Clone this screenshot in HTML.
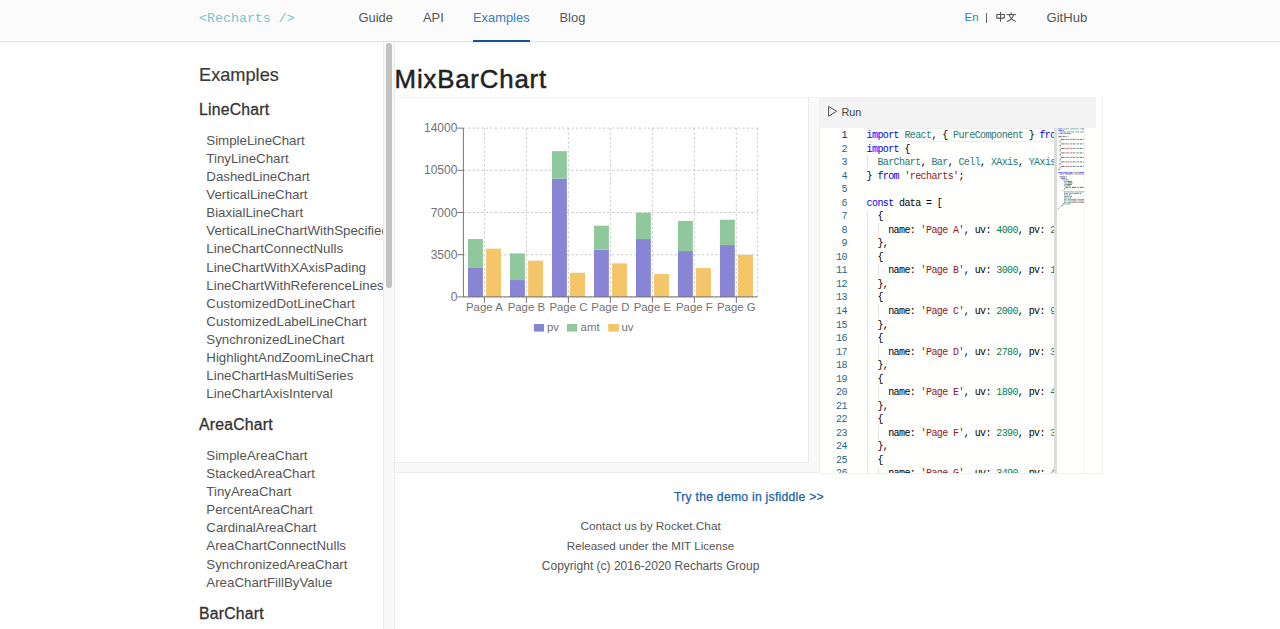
<!DOCTYPE html>
<html><head><meta charset="utf-8">
<style>
html,body{margin:0;padding:0;}
body{width:1280px;height:629px;overflow:hidden;background:#fff;position:relative;font-family:"Liberation Sans",sans-serif;color:#333;}
.a{position:absolute;white-space:nowrap;line-height:1;}
</style></head>
<body>
<div class="a" style="left:0px;top:0px;width:1280px;height:41px;background:#fbfbfb;"></div>
<div class="a" style="left:0px;top:41px;width:1280px;height:1px;background:#e6e6e6;"></div>
<div class="a" style="left:0px;top:42px;width:1280px;height:1px;background:#f6f6f6;"></div>
<div class="a" style="left:0px;top:43px;width:1280px;height:2px;background:#fcfcfc;"></div>
<div class="a" style="left:199.00px;top:12px;font-size:13.3px;color:#7cc4ca;font-family:'Liberation Mono',monospace;">&lt;Recharts /&gt;</div>
<div class="a" style="left:358.50px;top:12px;font-size:12.9px;color:#555;">Guide</div>
<div class="a" style="left:423.00px;top:12px;font-size:12.9px;color:#555;">API</div>
<div class="a" style="left:473.00px;top:12px;font-size:12.9px;color:#3d7cbd;">Examples</div>
<div class="a" style="left:473px;top:40px;width:57px;height:2px;background:#15539a;"></div>
<div class="a" style="left:559.50px;top:12px;font-size:12.9px;color:#555;">Blog</div>
<div class="a" style="left:964.50px;top:11px;font-size:11.6px;color:#3d7cbd;">En</div>
<div class="a" style="left:986px;top:13px;width:1px;height:10px;background:#666;"></div>
<div class="a" style="left:1046.50px;top:11px;font-size:13.1px;color:#555;">GitHub</div>
<div class="a" style="left:0;top:42px;width:383px;height:587px;overflow:hidden;">
<div class="a" style="left:199px;top:24px;font-size:18.2px;color:#3a3a3a;-webkit-text-stroke:0.2px #3a3a3a;">Examples</div>
<div class="a" style="left:199px;top:60px;font-size:15.8px;color:#333;letter-spacing:0.2px;-webkit-text-stroke:0.3px #333;">LineChart</div>
<div class="a" style="left:206.3px;top:92px;font-size:13.3px;color:#555;">SimpleLineChart</div>
<div class="a" style="left:206.3px;top:110px;font-size:13.3px;color:#555;">TinyLineChart</div>
<div class="a" style="left:206.3px;top:128px;font-size:13.3px;color:#555;">DashedLineChart</div>
<div class="a" style="left:206.3px;top:146px;font-size:13.3px;color:#555;">VerticalLineChart</div>
<div class="a" style="left:206.3px;top:164px;font-size:13.3px;color:#555;">BiaxialLineChart</div>
<div class="a" style="left:206.3px;top:182px;font-size:13.3px;color:#555;">VerticalLineChartWithSpecifiedDomain</div>
<div class="a" style="left:206.3px;top:200px;font-size:13.3px;color:#555;">LineChartConnectNulls</div>
<div class="a" style="left:206.3px;top:219px;font-size:13.3px;color:#555;">LineChartWithXAxisPading</div>
<div class="a" style="left:206.3px;top:237px;font-size:13.3px;color:#555;">LineChartWithReferenceLines</div>
<div class="a" style="left:206.3px;top:255px;font-size:13.3px;color:#555;">CustomizedDotLineChart</div>
<div class="a" style="left:206.3px;top:273px;font-size:13.3px;color:#555;">CustomizedLabelLineChart</div>
<div class="a" style="left:206.3px;top:291px;font-size:13.3px;color:#555;">SynchronizedLineChart</div>
<div class="a" style="left:206.3px;top:309px;font-size:13.3px;color:#555;">HighlightAndZoomLineChart</div>
<div class="a" style="left:206.3px;top:327px;font-size:13.3px;color:#555;">LineChartHasMultiSeries</div>
<div class="a" style="left:206.3px;top:345px;font-size:13.3px;color:#555;">LineChartAxisInterval</div>
<div class="a" style="left:199px;top:375px;font-size:15.8px;color:#333;letter-spacing:0.2px;-webkit-text-stroke:0.3px #333;">AreaChart</div>
<div class="a" style="left:206.3px;top:407px;font-size:13.3px;color:#555;">SimpleAreaChart</div>
<div class="a" style="left:206.3px;top:425px;font-size:13.3px;color:#555;">StackedAreaChart</div>
<div class="a" style="left:206.3px;top:443px;font-size:13.3px;color:#555;">TinyAreaChart</div>
<div class="a" style="left:206.3px;top:461px;font-size:13.3px;color:#555;">PercentAreaChart</div>
<div class="a" style="left:206.3px;top:479px;font-size:13.3px;color:#555;">CardinalAreaChart</div>
<div class="a" style="left:206.3px;top:497px;font-size:13.3px;color:#555;">AreaChartConnectNulls</div>
<div class="a" style="left:206.3px;top:516px;font-size:13.3px;color:#555;">SynchronizedAreaChart</div>
<div class="a" style="left:206.3px;top:534px;font-size:13.3px;color:#555;">AreaChartFillByValue</div>
<div class="a" style="left:199px;top:564px;font-size:15.8px;color:#333;letter-spacing:0.2px;-webkit-text-stroke:0.3px #333;">BarChart</div>
</div>
<div class="a" style="left:383px;top:42px;width:12px;height:587px;background:#f9f9f9;"></div>
<div class="a" style="left:383px;top:42px;width:1px;height:587px;background:#ececec;"></div>
<div class="a" style="left:394px;top:42px;width:1px;height:587px;background:#ececec;"></div>
<div class="a" style="left:386px;top:43px;width:6px;height:245px;background:#c2c2c2;border-radius:3px;"></div>
<div class="a" style="left:394.60px;top:67px;font-size:25.8px;color:#222;letter-spacing:0.82px;-webkit-text-stroke:0.5px #222;">MixBarChart</div>
<div class="a" style="left:395px;top:97px;width:708px;height:376px;background:#f9f9f9;"></div>
<div class="a" style="left:395px;top:97px;width:708px;height:1px;background:#f3f3f3;"></div>
<div class="a" style="left:395px;top:472px;width:708px;height:1px;background:#ececec;"></div>
<div class="a" style="left:1102px;top:97px;width:1px;height:376px;background:#f0f0f0;"></div>
<div class="a" style="left:395px;top:98px;width:413px;height:364px;background:#ffffff;"></div>
<div class="a" style="left:808px;top:97px;width:1px;height:366px;background:#ebebeb;"></div>
<div class="a" style="left:395px;top:462px;width:414px;height:1px;background:#ebebeb;"></div>
<svg class="a" style="left:395px;top:97px;" width="413" height="365" viewBox="395 97 413 365"><g stroke="#bdbdbd" stroke-width="0.8" stroke-dasharray="2.25 2.25" fill="none"><line x1="463.4" y1="128.10" x2="757.4" y2="128.10"/><line x1="463.4" y1="170.30" x2="757.4" y2="170.30"/><line x1="463.4" y1="212.50" x2="757.4" y2="212.50"/><line x1="463.4" y1="254.70" x2="757.4" y2="254.70"/><line x1="463.4" y1="296.90" x2="757.4" y2="296.90"/><line x1="484.40" y1="128.1" x2="484.40" y2="296.9"/><line x1="526.39" y1="128.1" x2="526.39" y2="296.9"/><line x1="568.38" y1="128.1" x2="568.38" y2="296.9"/><line x1="610.37" y1="128.1" x2="610.37" y2="296.9"/><line x1="652.36" y1="128.1" x2="652.36" y2="296.9"/><line x1="694.35" y1="128.1" x2="694.35" y2="296.9"/><line x1="736.34" y1="128.1" x2="736.34" y2="296.9"/><line x1="757.4" y1="128.1" x2="757.4" y2="296.9"/></g><rect x="468.00" y="267.96" width="14.9" height="28.94" fill="#8985d5"/><rect x="468.00" y="239.03" width="14.9" height="28.94" fill="#90c89e"/><rect x="486.10" y="248.67" width="14.9" height="48.23" fill="#f5c56a"/><rect x="509.99" y="280.04" width="14.9" height="16.86" fill="#8985d5"/><rect x="509.99" y="253.40" width="14.9" height="26.65" fill="#90c89e"/><rect x="528.09" y="260.73" width="14.9" height="36.17" fill="#f5c56a"/><rect x="551.98" y="178.74" width="14.9" height="118.16" fill="#8985d5"/><rect x="551.98" y="151.13" width="14.9" height="27.61" fill="#90c89e"/><rect x="570.08" y="272.79" width="14.9" height="24.11" fill="#f5c56a"/><rect x="593.97" y="249.78" width="14.9" height="47.12" fill="#8985d5"/><rect x="593.97" y="225.67" width="14.9" height="24.11" fill="#90c89e"/><rect x="612.07" y="263.38" width="14.9" height="33.52" fill="#f5c56a"/><rect x="635.96" y="239.03" width="14.9" height="57.87" fill="#8985d5"/><rect x="635.96" y="212.73" width="14.9" height="26.30" fill="#90c89e"/><rect x="654.06" y="274.11" width="14.9" height="22.79" fill="#f5c56a"/><rect x="677.95" y="251.08" width="14.9" height="45.82" fill="#8985d5"/><rect x="677.95" y="220.94" width="14.9" height="30.14" fill="#90c89e"/><rect x="696.05" y="268.08" width="14.9" height="28.82" fill="#f5c56a"/><rect x="719.94" y="245.05" width="14.9" height="51.85" fill="#8985d5"/><rect x="719.94" y="219.73" width="14.9" height="25.32" fill="#90c89e"/><rect x="738.04" y="254.82" width="14.9" height="42.08" fill="#f5c56a"/><g stroke="#666" stroke-width="0.9" fill="none"><line x1="463.4" y1="128.1" x2="463.4" y2="296.9"/><line x1="463.4" y1="296.9" x2="757.4" y2="296.9"/><line x1="457.4" y1="128.10" x2="463.4" y2="128.10"/><line x1="457.4" y1="170.30" x2="463.4" y2="170.30"/><line x1="457.4" y1="212.50" x2="463.4" y2="212.50"/><line x1="457.4" y1="254.70" x2="463.4" y2="254.70"/><line x1="457.4" y1="296.90" x2="463.4" y2="296.90"/><line x1="484.40" y1="296.9" x2="484.40" y2="302.9"/><line x1="526.39" y1="296.9" x2="526.39" y2="302.9"/><line x1="568.38" y1="296.9" x2="568.38" y2="302.9"/><line x1="610.37" y1="296.9" x2="610.37" y2="302.9"/><line x1="652.36" y1="296.9" x2="652.36" y2="302.9"/><line x1="694.35" y1="296.9" x2="694.35" y2="302.9"/><line x1="736.34" y1="296.9" x2="736.34" y2="302.9"/></g><g font-family="Liberation Sans" font-size="11.4" fill="#727272"><text x="457.4" y="132.20" text-anchor="end" font-size="12">14000</text><text x="457.4" y="174.40" text-anchor="end" font-size="12">10500</text><text x="457.4" y="216.60" text-anchor="end" font-size="12">7000</text><text x="457.4" y="258.80" text-anchor="end" font-size="12">3500</text><text x="457.4" y="301.00" text-anchor="end" font-size="12">0</text><text x="484.40" y="310.5" text-anchor="middle">Page A</text><text x="526.39" y="310.5" text-anchor="middle">Page B</text><text x="568.38" y="310.5" text-anchor="middle">Page C</text><text x="610.37" y="310.5" text-anchor="middle">Page D</text><text x="652.36" y="310.5" text-anchor="middle">Page E</text><text x="694.35" y="310.5" text-anchor="middle">Page F</text><text x="736.34" y="310.5" text-anchor="middle">Page G</text></g><rect x="533.9" y="324" width="10.1" height="7.6" fill="#8985d5"/><rect x="566.9" y="324" width="10.3" height="7.6" fill="#90c89e"/><rect x="608.2" y="324" width="10.7" height="7.6" fill="#f5c56a"/><g font-family="Liberation Sans" font-size="11.4"><text x="547" y="330.8" fill="#727272">pv</text><text x="580.6" y="330.8" fill="#727272">amt</text><text x="621.4" y="330.8" fill="#727272">uv</text></g></svg>
<div class="a" style="left:819px;top:97px;width:1px;height:376px;background:#efefef;"></div>
<div class="a" style="left:820px;top:97px;width:282px;height:376px;background:#fffffe;"></div>
<div class="a" style="left:820px;top:97px;width:276px;height:30.5px;background:#f3f3f3;"></div>
<svg class="a" style="left:826px;top:104px;" width="14" height="15" viewBox="826 104 14 15"><path d="M828.6 106.3 L836.6 111.3 L828.6 116.3 Z" fill="none" stroke="#555" stroke-width="1" stroke-linejoin="miter"/></svg>
<div class="a" style="left:841.50px;top:107px;font-size:10.8px;color:#444;">Run</div>
<div class="a" style="left:820px;top:128px;width:234px;height:345px;overflow:hidden;">
<div class="a" style="left:46.6px;top:0.2px;width:190px;height:11.6px;border:1px solid #eeeeee;"></div>
<div class="a" style="left:0;width:26.8px;text-align:right;top:3px;font-size:10px;letter-spacing:-0.6px;font-family:'Liberation Mono',monospace;color:#0b216f;">1</div>
<div class="a" style="left:46.6px;top:3px;font-size:10px;letter-spacing:-0.6px;font-family:'Liberation Mono',monospace;white-space:pre;"><span style="color:#0000ff">import</span><span style="color:#000000"> </span><span style="color:#2a7773">React</span><span style="color:#000000">, { </span><span style="color:#2a7773">PureComponent</span><span style="color:#000000"> } </span><span style="color:#0000ff">from</span><span style="color:#000000"> </span><span style="color:#951818">&#x27;react&#x27;</span><span style="color:#000000">;</span></div>
<div class="a" style="left:0;width:26.8px;text-align:right;top:17px;font-size:10px;letter-spacing:-0.6px;font-family:'Liberation Mono',monospace;color:#1f6a87;">2</div>
<div class="a" style="left:46.6px;top:17px;font-size:10px;letter-spacing:-0.6px;font-family:'Liberation Mono',monospace;white-space:pre;"><span style="color:#0000ff">import</span><span style="color:#000000"> {</span></div>
<div class="a" style="left:0;width:26.8px;text-align:right;top:30px;font-size:10px;letter-spacing:-0.6px;font-family:'Liberation Mono',monospace;color:#1f6a87;">3</div>
<div class="a" style="left:46.6px;top:30px;font-size:10px;letter-spacing:-0.6px;font-family:'Liberation Mono',monospace;white-space:pre;"><span style="color:#000000">  </span><span style="color:#2a7773">BarChart</span><span style="color:#000000">, </span><span style="color:#2a7773">Bar</span><span style="color:#000000">, </span><span style="color:#2a7773">Cell</span><span style="color:#000000">, </span><span style="color:#2a7773">XAxis</span><span style="color:#000000">, </span><span style="color:#2a7773">YAxis</span><span style="color:#000000">, </span><span style="color:#2a7773">CartesianGrid</span><span style="color:#000000">,</span></div>
<div class="a" style="left:0;width:26.8px;text-align:right;top:44px;font-size:10px;letter-spacing:-0.6px;font-family:'Liberation Mono',monospace;color:#1f6a87;">4</div>
<div class="a" style="left:46.6px;top:44px;font-size:10px;letter-spacing:-0.6px;font-family:'Liberation Mono',monospace;white-space:pre;"><span style="color:#000000">} </span><span style="color:#0000ff">from</span><span style="color:#000000"> </span><span style="color:#951818">&#x27;recharts&#x27;</span><span style="color:#000000">;</span></div>
<div class="a" style="left:0;width:26.8px;text-align:right;top:57px;font-size:10px;letter-spacing:-0.6px;font-family:'Liberation Mono',monospace;color:#1f6a87;">5</div>
<div class="a" style="left:46.6px;top:57px;font-size:10px;letter-spacing:-0.6px;font-family:'Liberation Mono',monospace;white-space:pre;"></div>
<div class="a" style="left:0;width:26.8px;text-align:right;top:71px;font-size:10px;letter-spacing:-0.6px;font-family:'Liberation Mono',monospace;color:#1f6a87;">6</div>
<div class="a" style="left:46.6px;top:71px;font-size:10px;letter-spacing:-0.6px;font-family:'Liberation Mono',monospace;white-space:pre;"><span style="color:#0000ff">const</span><span style="color:#000000"> data = [</span></div>
<div class="a" style="left:0;width:26.8px;text-align:right;top:84px;font-size:10px;letter-spacing:-0.6px;font-family:'Liberation Mono',monospace;color:#1f6a87;">7</div>
<div class="a" style="left:46.6px;top:84px;font-size:10px;letter-spacing:-0.6px;font-family:'Liberation Mono',monospace;white-space:pre;"><span style="color:#000000">  {</span></div>
<div class="a" style="left:0;width:26.8px;text-align:right;top:98px;font-size:10px;letter-spacing:-0.6px;font-family:'Liberation Mono',monospace;color:#1f6a87;">8</div>
<div class="a" style="left:46.6px;top:98px;font-size:10px;letter-spacing:-0.6px;font-family:'Liberation Mono',monospace;white-space:pre;"><span style="color:#000000">    name: </span><span style="color:#951818">&#x27;Page A&#x27;</span><span style="color:#000000">, uv: </span><span style="color:#0a7d52">4000</span><span style="color:#000000">, pv: </span><span style="color:#0a7d52">2400</span><span style="color:#000000">, amt: </span><span style="color:#0a7d52">2400</span><span style="color:#000000">,</span></div>
<div class="a" style="left:0;width:26.8px;text-align:right;top:111px;font-size:10px;letter-spacing:-0.6px;font-family:'Liberation Mono',monospace;color:#1f6a87;">9</div>
<div class="a" style="left:46.6px;top:111px;font-size:10px;letter-spacing:-0.6px;font-family:'Liberation Mono',monospace;white-space:pre;"><span style="color:#000000">  },</span></div>
<div class="a" style="left:0;width:26.8px;text-align:right;top:125px;font-size:10px;letter-spacing:-0.6px;font-family:'Liberation Mono',monospace;color:#1f6a87;">10</div>
<div class="a" style="left:46.6px;top:125px;font-size:10px;letter-spacing:-0.6px;font-family:'Liberation Mono',monospace;white-space:pre;"><span style="color:#000000">  {</span></div>
<div class="a" style="left:0;width:26.8px;text-align:right;top:138px;font-size:10px;letter-spacing:-0.6px;font-family:'Liberation Mono',monospace;color:#1f6a87;">11</div>
<div class="a" style="left:46.6px;top:138px;font-size:10px;letter-spacing:-0.6px;font-family:'Liberation Mono',monospace;white-space:pre;"><span style="color:#000000">    name: </span><span style="color:#951818">&#x27;Page B&#x27;</span><span style="color:#000000">, uv: </span><span style="color:#0a7d52">3000</span><span style="color:#000000">, pv: </span><span style="color:#0a7d52">1398</span><span style="color:#000000">, amt: </span><span style="color:#0a7d52">2210</span><span style="color:#000000">,</span></div>
<div class="a" style="left:0;width:26.8px;text-align:right;top:152px;font-size:10px;letter-spacing:-0.6px;font-family:'Liberation Mono',monospace;color:#1f6a87;">12</div>
<div class="a" style="left:46.6px;top:152px;font-size:10px;letter-spacing:-0.6px;font-family:'Liberation Mono',monospace;white-space:pre;"><span style="color:#000000">  },</span></div>
<div class="a" style="left:0;width:26.8px;text-align:right;top:165px;font-size:10px;letter-spacing:-0.6px;font-family:'Liberation Mono',monospace;color:#1f6a87;">13</div>
<div class="a" style="left:46.6px;top:165px;font-size:10px;letter-spacing:-0.6px;font-family:'Liberation Mono',monospace;white-space:pre;"><span style="color:#000000">  {</span></div>
<div class="a" style="left:0;width:26.8px;text-align:right;top:179px;font-size:10px;letter-spacing:-0.6px;font-family:'Liberation Mono',monospace;color:#1f6a87;">14</div>
<div class="a" style="left:46.6px;top:179px;font-size:10px;letter-spacing:-0.6px;font-family:'Liberation Mono',monospace;white-space:pre;"><span style="color:#000000">    name: </span><span style="color:#951818">&#x27;Page C&#x27;</span><span style="color:#000000">, uv: </span><span style="color:#0a7d52">2000</span><span style="color:#000000">, pv: </span><span style="color:#0a7d52">9800</span><span style="color:#000000">, amt: </span><span style="color:#0a7d52">2290</span><span style="color:#000000">,</span></div>
<div class="a" style="left:0;width:26.8px;text-align:right;top:193px;font-size:10px;letter-spacing:-0.6px;font-family:'Liberation Mono',monospace;color:#1f6a87;">15</div>
<div class="a" style="left:46.6px;top:193px;font-size:10px;letter-spacing:-0.6px;font-family:'Liberation Mono',monospace;white-space:pre;"><span style="color:#000000">  },</span></div>
<div class="a" style="left:0;width:26.8px;text-align:right;top:206px;font-size:10px;letter-spacing:-0.6px;font-family:'Liberation Mono',monospace;color:#1f6a87;">16</div>
<div class="a" style="left:46.6px;top:206px;font-size:10px;letter-spacing:-0.6px;font-family:'Liberation Mono',monospace;white-space:pre;"><span style="color:#000000">  {</span></div>
<div class="a" style="left:0;width:26.8px;text-align:right;top:220px;font-size:10px;letter-spacing:-0.6px;font-family:'Liberation Mono',monospace;color:#1f6a87;">17</div>
<div class="a" style="left:46.6px;top:220px;font-size:10px;letter-spacing:-0.6px;font-family:'Liberation Mono',monospace;white-space:pre;"><span style="color:#000000">    name: </span><span style="color:#951818">&#x27;Page D&#x27;</span><span style="color:#000000">, uv: </span><span style="color:#0a7d52">2780</span><span style="color:#000000">, pv: </span><span style="color:#0a7d52">3908</span><span style="color:#000000">, amt: </span><span style="color:#0a7d52">2000</span><span style="color:#000000">,</span></div>
<div class="a" style="left:0;width:26.8px;text-align:right;top:233px;font-size:10px;letter-spacing:-0.6px;font-family:'Liberation Mono',monospace;color:#1f6a87;">18</div>
<div class="a" style="left:46.6px;top:233px;font-size:10px;letter-spacing:-0.6px;font-family:'Liberation Mono',monospace;white-space:pre;"><span style="color:#000000">  },</span></div>
<div class="a" style="left:0;width:26.8px;text-align:right;top:247px;font-size:10px;letter-spacing:-0.6px;font-family:'Liberation Mono',monospace;color:#1f6a87;">19</div>
<div class="a" style="left:46.6px;top:247px;font-size:10px;letter-spacing:-0.6px;font-family:'Liberation Mono',monospace;white-space:pre;"><span style="color:#000000">  {</span></div>
<div class="a" style="left:0;width:26.8px;text-align:right;top:260px;font-size:10px;letter-spacing:-0.6px;font-family:'Liberation Mono',monospace;color:#1f6a87;">20</div>
<div class="a" style="left:46.6px;top:260px;font-size:10px;letter-spacing:-0.6px;font-family:'Liberation Mono',monospace;white-space:pre;"><span style="color:#000000">    name: </span><span style="color:#951818">&#x27;Page E&#x27;</span><span style="color:#000000">, uv: </span><span style="color:#0a7d52">1890</span><span style="color:#000000">, pv: </span><span style="color:#0a7d52">4800</span><span style="color:#000000">, amt: </span><span style="color:#0a7d52">2181</span><span style="color:#000000">,</span></div>
<div class="a" style="left:0;width:26.8px;text-align:right;top:274px;font-size:10px;letter-spacing:-0.6px;font-family:'Liberation Mono',monospace;color:#1f6a87;">21</div>
<div class="a" style="left:46.6px;top:274px;font-size:10px;letter-spacing:-0.6px;font-family:'Liberation Mono',monospace;white-space:pre;"><span style="color:#000000">  },</span></div>
<div class="a" style="left:0;width:26.8px;text-align:right;top:287px;font-size:10px;letter-spacing:-0.6px;font-family:'Liberation Mono',monospace;color:#1f6a87;">22</div>
<div class="a" style="left:46.6px;top:287px;font-size:10px;letter-spacing:-0.6px;font-family:'Liberation Mono',monospace;white-space:pre;"><span style="color:#000000">  {</span></div>
<div class="a" style="left:0;width:26.8px;text-align:right;top:301px;font-size:10px;letter-spacing:-0.6px;font-family:'Liberation Mono',monospace;color:#1f6a87;">23</div>
<div class="a" style="left:46.6px;top:301px;font-size:10px;letter-spacing:-0.6px;font-family:'Liberation Mono',monospace;white-space:pre;"><span style="color:#000000">    name: </span><span style="color:#951818">&#x27;Page F&#x27;</span><span style="color:#000000">, uv: </span><span style="color:#0a7d52">2390</span><span style="color:#000000">, pv: </span><span style="color:#0a7d52">3800</span><span style="color:#000000">, amt: </span><span style="color:#0a7d52">2500</span><span style="color:#000000">,</span></div>
<div class="a" style="left:0;width:26.8px;text-align:right;top:314px;font-size:10px;letter-spacing:-0.6px;font-family:'Liberation Mono',monospace;color:#1f6a87;">24</div>
<div class="a" style="left:46.6px;top:314px;font-size:10px;letter-spacing:-0.6px;font-family:'Liberation Mono',monospace;white-space:pre;"><span style="color:#000000">  },</span></div>
<div class="a" style="left:0;width:26.8px;text-align:right;top:328px;font-size:10px;letter-spacing:-0.6px;font-family:'Liberation Mono',monospace;color:#1f6a87;">25</div>
<div class="a" style="left:46.6px;top:328px;font-size:10px;letter-spacing:-0.6px;font-family:'Liberation Mono',monospace;white-space:pre;"><span style="color:#000000">  {</span></div>
<div class="a" style="left:0;width:26.8px;text-align:right;top:341px;font-size:10px;letter-spacing:-0.6px;font-family:'Liberation Mono',monospace;color:#1f6a87;">26</div>
<div class="a" style="left:46.6px;top:341px;font-size:10px;letter-spacing:-0.6px;font-family:'Liberation Mono',monospace;white-space:pre;"><span style="color:#000000">    name: </span><span style="color:#951818">&#x27;Page G&#x27;</span><span style="color:#000000">, uv: </span><span style="color:#0a7d52">3490</span><span style="color:#000000">, pv: </span><span style="color:#0a7d52">4300</span><span style="color:#000000">, amt: </span><span style="color:#0a7d52">2100</span><span style="color:#000000">,</span></div>
<div class="a" style="left:47px;top:27.30px;width:1px;height:13.55px;background:#e3e3e3;"></div>
<div class="a" style="left:47px;top:81.50px;width:1px;height:13.65px;background:#e3e3e3;"></div>
<div class="a" style="left:47px;top:95.05px;width:1px;height:13.65px;background:#e3e3e3;"></div>
<div class="a" style="left:58px;top:95.05px;width:1px;height:13.65px;background:#e3e3e3;"></div>
<div class="a" style="left:47px;top:108.60px;width:1px;height:13.65px;background:#e3e3e3;"></div>
<div class="a" style="left:47px;top:122.15px;width:1px;height:13.65px;background:#e3e3e3;"></div>
<div class="a" style="left:47px;top:135.70px;width:1px;height:13.65px;background:#e3e3e3;"></div>
<div class="a" style="left:58px;top:135.70px;width:1px;height:13.65px;background:#e3e3e3;"></div>
<div class="a" style="left:47px;top:149.25px;width:1px;height:13.65px;background:#e3e3e3;"></div>
<div class="a" style="left:47px;top:162.80px;width:1px;height:13.65px;background:#e3e3e3;"></div>
<div class="a" style="left:47px;top:176.35px;width:1px;height:13.65px;background:#e3e3e3;"></div>
<div class="a" style="left:58px;top:176.35px;width:1px;height:13.65px;background:#e3e3e3;"></div>
<div class="a" style="left:47px;top:189.90px;width:1px;height:13.65px;background:#e3e3e3;"></div>
<div class="a" style="left:47px;top:203.45px;width:1px;height:13.65px;background:#e3e3e3;"></div>
<div class="a" style="left:47px;top:217.00px;width:1px;height:13.65px;background:#e3e3e3;"></div>
<div class="a" style="left:58px;top:217.00px;width:1px;height:13.65px;background:#e3e3e3;"></div>
<div class="a" style="left:47px;top:230.55px;width:1px;height:13.65px;background:#e3e3e3;"></div>
<div class="a" style="left:47px;top:244.10px;width:1px;height:13.65px;background:#e3e3e3;"></div>
<div class="a" style="left:47px;top:257.65px;width:1px;height:13.65px;background:#e3e3e3;"></div>
<div class="a" style="left:58px;top:257.65px;width:1px;height:13.65px;background:#e3e3e3;"></div>
<div class="a" style="left:47px;top:271.20px;width:1px;height:13.65px;background:#e3e3e3;"></div>
<div class="a" style="left:47px;top:284.75px;width:1px;height:13.65px;background:#e3e3e3;"></div>
<div class="a" style="left:47px;top:298.30px;width:1px;height:13.65px;background:#e3e3e3;"></div>
<div class="a" style="left:58px;top:298.30px;width:1px;height:13.65px;background:#e3e3e3;"></div>
<div class="a" style="left:47px;top:311.85px;width:1px;height:13.65px;background:#e3e3e3;"></div>
<div class="a" style="left:47px;top:325.40px;width:1px;height:13.65px;background:#e3e3e3;"></div>
<div class="a" style="left:47px;top:338.95px;width:1px;height:13.65px;background:#e3e3e3;"></div>
<div class="a" style="left:58px;top:338.95px;width:1px;height:13.65px;background:#e3e3e3;"></div>
</div>
<div class="a" style="left:1054px;top:128px;width:3px;height:345px;background:#dcdcdc;"></div>
<div class="a" style="left:820px;top:473px;width:283px;height:1px;background:#f0f0f0;"></div>
<div class="a" style="left:1084px;top:128px;width:1px;height:345px;background:#f2f2f2;"></div>
<div class="a" style="left:674.00px;top:491px;font-size:12.2px;color:#1d62a8;letter-spacing:0.25px;-webkit-text-stroke:0.25px #1d62a8;">Try the demo in jsfiddle &gt;&gt;</div>
<div class="a" style="left:150.60px;width:1000px;text-align:center;top:521px;font-size:11.8px;color:#555;">Contact us by Rocket.Chat</div>
<div class="a" style="left:150.50px;width:1000px;text-align:center;top:540px;font-size:11.6px;color:#555;">Released under the MIT License</div>
<div class="a" style="left:150.60px;width:1000px;text-align:center;top:560px;font-size:12.0px;color:#555;">Copyright (c) 2016-2020 Recharts Group</div>
<svg class="a" style="left:994px;top:10px;" width="24" height="14" viewBox="994 10 24 14"><g fill="none" stroke="#555" stroke-width="1.05" stroke-linecap="butt"><path d="M996.8 18.6 V14.4 H1004.3 V18.6 M996.8 18.1 H1004.3"/><path d="M1000.55 12 V21.8"/><path d="M1010.7 12.4 L1011.5 13.9"/><path d="M1006.5 14.6 H1015.9"/><path d="M1013.7 14.6 C1012.6 18.2 1010.2 20.4 1006.8 21.6"/><path d="M1009.2 14.6 C1010.3 18.2 1012.6 20.4 1015.9 21.4"/></g></svg>
<svg class="a" style="left:1057px;top:128px;" width="27" height="90" viewBox="1057 128 27 90"><g opacity="0.55"><rect x="1058.20" y="128.40" width="4.32" height="1.0" fill="#0000ff"/><rect x="1063.24" y="128.40" width="3.60" height="1.0" fill="#2a7773"/><rect x="1066.84" y="128.40" width="0.72" height="1.0" fill="#000000"/><rect x="1068.28" y="128.40" width="0.72" height="1.0" fill="#000000"/><rect x="1069.72" y="128.40" width="9.36" height="1.0" fill="#2a7773"/><rect x="1079.80" y="128.40" width="0.72" height="1.0" fill="#000000"/><rect x="1081.24" y="128.40" width="2.88" height="1.0" fill="#0000ff"/><rect x="1084.84" y="128.40" width="5.04" height="1.0" fill="#951818"/><rect x="1058.20" y="129.90" width="4.32" height="1.0" fill="#0000ff"/><rect x="1063.24" y="129.90" width="0.72" height="1.0" fill="#000000"/><rect x="1059.64" y="131.40" width="5.76" height="1.0" fill="#2a7773"/><rect x="1065.40" y="131.40" width="0.72" height="1.0" fill="#000000"/><rect x="1066.84" y="131.40" width="2.16" height="1.0" fill="#2a7773"/><rect x="1069.00" y="131.40" width="0.72" height="1.0" fill="#000000"/><rect x="1070.44" y="131.40" width="2.88" height="1.0" fill="#2a7773"/><rect x="1073.32" y="131.40" width="0.72" height="1.0" fill="#000000"/><rect x="1074.76" y="131.40" width="3.60" height="1.0" fill="#2a7773"/><rect x="1078.36" y="131.40" width="0.72" height="1.0" fill="#000000"/><rect x="1079.80" y="131.40" width="3.60" height="1.0" fill="#2a7773"/><rect x="1083.40" y="131.40" width="0.72" height="1.0" fill="#000000"/><rect x="1084.84" y="131.40" width="9.36" height="1.0" fill="#2a7773"/><rect x="1058.20" y="132.90" width="0.72" height="1.0" fill="#000000"/><rect x="1059.64" y="132.90" width="2.88" height="1.0" fill="#0000ff"/><rect x="1063.24" y="132.90" width="7.20" height="1.0" fill="#951818"/><rect x="1070.44" y="132.90" width="0.72" height="1.0" fill="#000000"/><rect x="1058.20" y="135.90" width="3.60" height="1.0" fill="#0000ff"/><rect x="1062.52" y="135.90" width="2.88" height="1.0" fill="#000000"/><rect x="1066.12" y="135.90" width="0.72" height="1.0" fill="#000000"/><rect x="1067.56" y="135.90" width="0.72" height="1.0" fill="#000000"/><rect x="1059.64" y="137.40" width="0.72" height="1.0" fill="#000000"/><rect x="1061.08" y="138.90" width="3.60" height="1.0" fill="#000000"/><rect x="1065.40" y="138.90" width="3.60" height="1.0" fill="#951818"/><rect x="1069.72" y="138.90" width="1.44" height="1.0" fill="#951818"/><rect x="1071.16" y="138.90" width="0.72" height="1.0" fill="#000000"/><rect x="1072.60" y="138.90" width="2.16" height="1.0" fill="#000000"/><rect x="1075.48" y="138.90" width="2.88" height="1.0" fill="#0a7d52"/><rect x="1078.36" y="138.90" width="0.72" height="1.0" fill="#000000"/><rect x="1079.80" y="138.90" width="2.16" height="1.0" fill="#000000"/><rect x="1082.68" y="138.90" width="2.88" height="1.0" fill="#0a7d52"/><rect x="1059.64" y="140.40" width="1.44" height="1.0" fill="#000000"/><rect x="1059.64" y="141.90" width="0.72" height="1.0" fill="#000000"/><rect x="1061.08" y="143.40" width="3.60" height="1.0" fill="#000000"/><rect x="1065.40" y="143.40" width="3.60" height="1.0" fill="#951818"/><rect x="1069.72" y="143.40" width="1.44" height="1.0" fill="#951818"/><rect x="1071.16" y="143.40" width="0.72" height="1.0" fill="#000000"/><rect x="1072.60" y="143.40" width="2.16" height="1.0" fill="#000000"/><rect x="1075.48" y="143.40" width="2.88" height="1.0" fill="#0a7d52"/><rect x="1078.36" y="143.40" width="0.72" height="1.0" fill="#000000"/><rect x="1079.80" y="143.40" width="2.16" height="1.0" fill="#000000"/><rect x="1082.68" y="143.40" width="2.88" height="1.0" fill="#0a7d52"/><rect x="1059.64" y="144.90" width="1.44" height="1.0" fill="#000000"/><rect x="1059.64" y="146.40" width="0.72" height="1.0" fill="#000000"/><rect x="1061.08" y="147.90" width="3.60" height="1.0" fill="#000000"/><rect x="1065.40" y="147.90" width="3.60" height="1.0" fill="#951818"/><rect x="1069.72" y="147.90" width="1.44" height="1.0" fill="#951818"/><rect x="1071.16" y="147.90" width="0.72" height="1.0" fill="#000000"/><rect x="1072.60" y="147.90" width="2.16" height="1.0" fill="#000000"/><rect x="1075.48" y="147.90" width="2.88" height="1.0" fill="#0a7d52"/><rect x="1078.36" y="147.90" width="0.72" height="1.0" fill="#000000"/><rect x="1079.80" y="147.90" width="2.16" height="1.0" fill="#000000"/><rect x="1082.68" y="147.90" width="2.88" height="1.0" fill="#0a7d52"/><rect x="1059.64" y="149.40" width="1.44" height="1.0" fill="#000000"/><rect x="1059.64" y="150.90" width="0.72" height="1.0" fill="#000000"/><rect x="1061.08" y="152.40" width="3.60" height="1.0" fill="#000000"/><rect x="1065.40" y="152.40" width="3.60" height="1.0" fill="#951818"/><rect x="1069.72" y="152.40" width="1.44" height="1.0" fill="#951818"/><rect x="1071.16" y="152.40" width="0.72" height="1.0" fill="#000000"/><rect x="1072.60" y="152.40" width="2.16" height="1.0" fill="#000000"/><rect x="1075.48" y="152.40" width="2.88" height="1.0" fill="#0a7d52"/><rect x="1078.36" y="152.40" width="0.72" height="1.0" fill="#000000"/><rect x="1079.80" y="152.40" width="2.16" height="1.0" fill="#000000"/><rect x="1082.68" y="152.40" width="2.88" height="1.0" fill="#0a7d52"/><rect x="1059.64" y="153.90" width="1.44" height="1.0" fill="#000000"/><rect x="1059.64" y="155.40" width="0.72" height="1.0" fill="#000000"/><rect x="1061.08" y="156.90" width="3.60" height="1.0" fill="#000000"/><rect x="1065.40" y="156.90" width="3.60" height="1.0" fill="#951818"/><rect x="1069.72" y="156.90" width="1.44" height="1.0" fill="#951818"/><rect x="1071.16" y="156.90" width="0.72" height="1.0" fill="#000000"/><rect x="1072.60" y="156.90" width="2.16" height="1.0" fill="#000000"/><rect x="1075.48" y="156.90" width="2.88" height="1.0" fill="#0a7d52"/><rect x="1078.36" y="156.90" width="0.72" height="1.0" fill="#000000"/><rect x="1079.80" y="156.90" width="2.16" height="1.0" fill="#000000"/><rect x="1082.68" y="156.90" width="2.88" height="1.0" fill="#0a7d52"/><rect x="1059.64" y="158.40" width="1.44" height="1.0" fill="#000000"/><rect x="1059.64" y="159.90" width="0.72" height="1.0" fill="#000000"/><rect x="1061.08" y="161.40" width="3.60" height="1.0" fill="#000000"/><rect x="1065.40" y="161.40" width="3.60" height="1.0" fill="#951818"/><rect x="1069.72" y="161.40" width="1.44" height="1.0" fill="#951818"/><rect x="1071.16" y="161.40" width="0.72" height="1.0" fill="#000000"/><rect x="1072.60" y="161.40" width="2.16" height="1.0" fill="#000000"/><rect x="1075.48" y="161.40" width="2.88" height="1.0" fill="#0a7d52"/><rect x="1078.36" y="161.40" width="0.72" height="1.0" fill="#000000"/><rect x="1079.80" y="161.40" width="2.16" height="1.0" fill="#000000"/><rect x="1082.68" y="161.40" width="2.88" height="1.0" fill="#0a7d52"/><rect x="1059.64" y="162.90" width="1.44" height="1.0" fill="#000000"/><rect x="1059.64" y="164.40" width="0.72" height="1.0" fill="#000000"/><rect x="1061.08" y="165.90" width="3.60" height="1.0" fill="#000000"/><rect x="1065.40" y="165.90" width="3.60" height="1.0" fill="#951818"/><rect x="1069.72" y="165.90" width="1.44" height="1.0" fill="#951818"/><rect x="1071.16" y="165.90" width="0.72" height="1.0" fill="#000000"/><rect x="1072.60" y="165.90" width="2.16" height="1.0" fill="#000000"/><rect x="1075.48" y="165.90" width="2.88" height="1.0" fill="#0a7d52"/><rect x="1078.36" y="165.90" width="0.72" height="1.0" fill="#000000"/><rect x="1079.80" y="165.90" width="2.16" height="1.0" fill="#000000"/><rect x="1082.68" y="165.90" width="2.88" height="1.0" fill="#0a7d52"/><rect x="1059.64" y="167.40" width="1.44" height="1.0" fill="#000000"/><rect x="1058.20" y="168.90" width="1.44" height="1.0" fill="#000000"/><rect x="1058.20" y="171.90" width="4.32" height="1.0" fill="#0000ff"/><rect x="1063.24" y="171.90" width="5.04" height="1.0" fill="#0000ff"/><rect x="1069.00" y="171.90" width="3.60" height="1.0" fill="#0000ff"/><rect x="1073.32" y="171.90" width="5.04" height="1.0" fill="#2a7773"/><rect x="1079.08" y="171.90" width="5.04" height="1.0" fill="#0000ff"/><rect x="1084.84" y="171.90" width="9.36" height="1.0" fill="#2a7773"/><rect x="1059.64" y="173.40" width="4.32" height="1.0" fill="#0000ff"/><rect x="1064.68" y="173.40" width="7.92" height="1.0" fill="#000000"/><rect x="1073.32" y="173.40" width="0.72" height="1.0" fill="#000000"/><rect x="1074.76" y="173.40" width="31.68" height="1.0" fill="#951818"/><rect x="1059.64" y="176.40" width="5.76" height="1.0" fill="#000000"/><rect x="1066.12" y="176.40" width="0.72" height="1.0" fill="#000000"/><rect x="1061.08" y="177.90" width="4.32" height="1.0" fill="#0000ff"/><rect x="1066.12" y="177.90" width="0.72" height="1.0" fill="#000000"/><rect x="1062.52" y="179.40" width="0.72" height="1.0" fill="#000000"/><rect x="1063.24" y="179.40" width="5.76" height="1.0" fill="#2a7773"/><rect x="1063.96" y="180.90" width="3.60" height="1.0" fill="#2a7773"/><rect x="1067.56" y="180.90" width="4.32" height="1.0" fill="#000000"/><rect x="1063.96" y="182.40" width="4.32" height="1.0" fill="#2a7773"/><rect x="1068.28" y="182.40" width="4.32" height="1.0" fill="#000000"/><rect x="1063.96" y="183.90" width="2.88" height="1.0" fill="#2a7773"/><rect x="1066.84" y="183.90" width="5.04" height="1.0" fill="#000000"/><rect x="1063.96" y="185.40" width="4.32" height="1.0" fill="#2a7773"/><rect x="1068.28" y="185.40" width="2.16" height="1.0" fill="#000000"/><rect x="1065.40" y="186.90" width="2.88" height="1.0" fill="#000000"/><rect x="1069.00" y="186.90" width="1.44" height="1.0" fill="#0a7d52"/><rect x="1070.44" y="186.90" width="0.72" height="1.0" fill="#000000"/><rect x="1071.88" y="186.90" width="4.32" height="1.0" fill="#000000"/><rect x="1076.92" y="186.90" width="1.44" height="1.0" fill="#0a7d52"/><rect x="1078.36" y="186.90" width="0.72" height="1.0" fill="#000000"/><rect x="1079.80" y="186.90" width="3.60" height="1.0" fill="#000000"/><rect x="1084.12" y="186.90" width="1.44" height="1.0" fill="#0a7d52"/><rect x="1063.96" y="188.40" width="1.44" height="1.0" fill="#000000"/><rect x="1062.52" y="189.90" width="0.72" height="1.0" fill="#000000"/><rect x="1063.96" y="191.40" width="0.72" height="1.0" fill="#000000"/><rect x="1064.68" y="191.40" width="9.36" height="1.0" fill="#2a7773"/><rect x="1074.76" y="191.40" width="10.80" height="1.0" fill="#2a7773"/><rect x="1063.96" y="192.90" width="0.72" height="1.0" fill="#000000"/><rect x="1064.68" y="192.90" width="3.60" height="1.0" fill="#2a7773"/><rect x="1069.00" y="192.90" width="5.04" height="1.0" fill="#2a7773"/><rect x="1074.04" y="192.90" width="0.72" height="1.0" fill="#000000"/><rect x="1074.76" y="192.90" width="4.32" height="1.0" fill="#951818"/><rect x="1079.80" y="192.90" width="1.44" height="1.0" fill="#000000"/><rect x="1063.96" y="194.40" width="0.72" height="1.0" fill="#000000"/><rect x="1064.68" y="194.40" width="3.60" height="1.0" fill="#2a7773"/><rect x="1069.00" y="194.40" width="1.44" height="1.0" fill="#000000"/><rect x="1063.96" y="195.90" width="0.72" height="1.0" fill="#000000"/><rect x="1064.68" y="195.90" width="5.04" height="1.0" fill="#2a7773"/><rect x="1070.44" y="195.90" width="1.44" height="1.0" fill="#000000"/><rect x="1063.96" y="197.40" width="0.72" height="1.0" fill="#000000"/><rect x="1064.68" y="197.40" width="4.32" height="1.0" fill="#2a7773"/><rect x="1069.72" y="197.40" width="1.44" height="1.0" fill="#000000"/><rect x="1063.96" y="198.90" width="0.72" height="1.0" fill="#000000"/><rect x="1064.68" y="198.90" width="2.16" height="1.0" fill="#2a7773"/><rect x="1067.56" y="198.90" width="5.04" height="1.0" fill="#2a7773"/><rect x="1072.60" y="198.90" width="0.72" height="1.0" fill="#000000"/><rect x="1073.32" y="198.90" width="2.88" height="1.0" fill="#951818"/><rect x="1076.92" y="198.90" width="5.04" height="1.0" fill="#2a7773"/><rect x="1081.96" y="198.90" width="0.72" height="1.0" fill="#000000"/><rect x="1082.68" y="198.90" width="2.16" height="1.0" fill="#951818"/><rect x="1063.96" y="200.40" width="0.72" height="1.0" fill="#000000"/><rect x="1064.68" y="200.40" width="2.16" height="1.0" fill="#2a7773"/><rect x="1067.56" y="200.40" width="5.04" height="1.0" fill="#2a7773"/><rect x="1072.60" y="200.40" width="0.72" height="1.0" fill="#000000"/><rect x="1073.32" y="200.40" width="3.60" height="1.0" fill="#951818"/><rect x="1077.64" y="200.40" width="5.04" height="1.0" fill="#2a7773"/><rect x="1082.68" y="200.40" width="0.72" height="1.0" fill="#000000"/><rect x="1083.40" y="200.40" width="2.16" height="1.0" fill="#951818"/><rect x="1063.96" y="201.90" width="0.72" height="1.0" fill="#000000"/><rect x="1064.68" y="201.90" width="2.16" height="1.0" fill="#2a7773"/><rect x="1067.56" y="201.90" width="5.04" height="1.0" fill="#2a7773"/><rect x="1072.60" y="201.90" width="0.72" height="1.0" fill="#000000"/><rect x="1073.32" y="201.90" width="2.88" height="1.0" fill="#951818"/><rect x="1076.92" y="201.90" width="2.88" height="1.0" fill="#2a7773"/><rect x="1079.80" y="201.90" width="0.72" height="1.0" fill="#000000"/><rect x="1080.52" y="201.90" width="6.48" height="1.0" fill="#951818"/><rect x="1062.52" y="203.40" width="1.44" height="1.0" fill="#000000"/><rect x="1063.96" y="203.40" width="5.76" height="1.0" fill="#2a7773"/><rect x="1069.72" y="203.40" width="0.72" height="1.0" fill="#000000"/><rect x="1061.08" y="204.90" width="1.44" height="1.0" fill="#000000"/><rect x="1059.64" y="206.40" width="0.72" height="1.0" fill="#000000"/><rect x="1058.20" y="207.90" width="0.72" height="1.0" fill="#000000"/></g></svg>
</body></html>
